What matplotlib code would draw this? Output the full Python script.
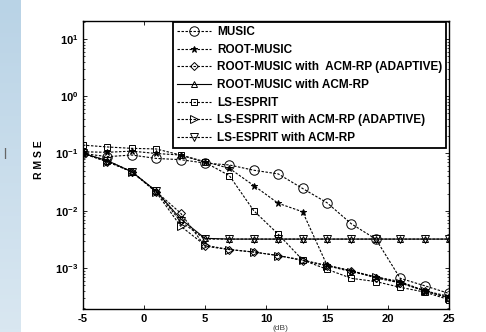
import numpy as np
import matplotlib
matplotlib.use("Agg")
from matplotlib import pyplot as plt

plt.rcParams['font.family'] = ['Liberation Sans', 'DejaVu Sans']
plt.rcParams['font.weight'] = 'bold'
plt.rcParams['axes.unicode_minus'] = False
plt.rcParams['mathtext.fontset'] = 'custom'
plt.rcParams['mathtext.rm'] = 'Liberation Sans:bold'
plt.rcParams['mathtext.bf'] = 'Liberation Sans:bold'
plt.rcParams['mathtext.it'] = 'Liberation Sans:bold'

snr = [-5, -3, -1, 1, 3, 5, 7, 9, 11, 13, 15, 17, 19, 21, 23, 25]

music = [0.10, 0.088, 0.094, 0.082, 0.078, 0.068, 0.063, 0.051, 0.044, 0.0245,
         0.0138, 0.0059, 0.0032, 6.6e-4, 4.9e-4, 3.6e-4]
root_music = [0.107, 0.105, 0.11, 0.10, 0.094, 0.072, 0.055, 0.0275, 0.0135, 0.0096,
              0.00112, 8.9e-4, 7.0e-4, 5.8e-4, 4.0e-4, 3.2e-4]
root_acm_adaptive = [0.10, 0.072, 0.048, 0.0215, 0.0091, 0.0024, 0.0021, 0.0019, 0.00165,
                     0.00135, 0.0011, 9.0e-4, 6.7e-4, 5.5e-4, 4.0e-4, 3.0e-4]
root_acm = [0.10, 0.075, 0.048, 0.022, 0.0072, 0.0033, 0.0032, 0.0032, 0.0032, 0.0032,
            0.0032, 0.0032, 0.0032, 0.0032, 0.0032, 0.0032]
ls_esprit = [0.14, 0.13, 0.123, 0.12, 0.094, 0.070, 0.041, 0.010, 0.0039, 0.00138,
             9.5e-4, 6.6e-4, 5.8e-4, 4.6e-4, 3.8e-4, 2.8e-4]
ls_acm_adaptive = [0.10, 0.072, 0.048, 0.021, 0.0054, 0.0025, 0.0021, 0.0019, 0.00165,
                   0.00138, 0.0011, 8.6e-4, 7.0e-4, 5.5e-4, 4.0e-4, 3.0e-4]
ls_acm = [0.10, 0.075, 0.048, 0.022, 0.0065, 0.0032, 0.0032, 0.0032, 0.0032, 0.0032,
          0.0032, 0.0032, 0.0032, 0.0032, 0.0032, 0.0032]

labels = ['MUSIC', 'ROOT-MUSIC', 'ROOT-MUSIC with  ACM-RP (ADAPTIVE)',
          'ROOT-MUSIC with ACM-RP', 'LS-ESPRIT', 'LS-ESPRIT with ACM-RP (ADAPTIVE)',
          'LS-ESPRIT with ACM-RP']

fig = plt.figure(figsize=(4.86, 3.32), dpi=100)

# light blue slide strip on the left
strip = fig.add_axes([0, 0, 21 / 486, 1])
grad = np.linspace(0, 1, 100).reshape(-1, 1)
strip.imshow(grad, aspect='auto', cmap=matplotlib.colors.LinearSegmentedColormap.from_list(
    'bl', ['#b9d3e6', '#d9e7f1']), extent=[0, 1, 0, 1])
strip.axis('off')
fig.text(5 / 486, 1 - 155 / 332, 'l', color='#666666', fontsize=10, weight='normal',
         ha='center', va='center')

ax = fig.add_axes([83 / 486, 1 - 309 / 332, 366 / 486, 288 / 332])

dash = (0, (2.2, 1.4))
series = [
    (music, 'o', 6.8, dash),
    (root_music, '*', 4.5, dash),
    (root_acm_adaptive, 'D', 4.0, dash),
    (root_acm, '^', 4.0, '-'),
    (ls_esprit, 's', 5.0, dash),
    (ls_acm_adaptive, '>', 5.5, dash),
    (ls_acm, 'v', 5.5, dash),
]
for (vals, mk, ms, ls), lab in zip(series, labels):
    filled = mk in ('*',)
    ax.plot(snr, vals, linestyle=ls, color='black', linewidth=0.8, marker=mk,
            markersize=ms, markerfacecolor='black' if filled else 'none',
            markeredgecolor='black', markeredgewidth=0.7, label=lab)

ax.set_yscale('log')
ax.set_xlim(-5, 25)
ax.set_ylim(10 ** -3.716, 10 ** 1.314)
ax.set_xticks([-5, 0, 5, 10, 15, 20, 25])
ax.set_yticks([1e-3, 1e-2, 1e-1, 1e0, 1e1])
ax.tick_params(which='both', direction='in', top=True, right=True, labelsize=8)
ax.tick_params(which='major', length=3, width=0.6)
ax.tick_params(which='minor', length=1.5, width=0.5)
for s in ax.spines.values():
    s.set_linewidth(1.0)

ax.set_ylabel('R M S E', fontsize=7.5, weight='bold')
ax.yaxis.set_label_coords(-0.107, 0.517)

leg = ax.legend(loc='upper right', bbox_to_anchor=(0.992, 0.995), fontsize=8.5,
                handlelength=2.9, labelspacing=0.48, borderpad=0.3, handletextpad=0.55,
                fancybox=False, framealpha=1, borderaxespad=0)
leg.get_frame().set_edgecolor('black')
leg.get_frame().set_linewidth(1.3)

fig.text(280 / 486, 1 - 329 / 332, '(dB)', fontsize=6, weight='normal', color='#444444',
         ha='center', va='center')

fig.savefig('out.png', dpi=100)
